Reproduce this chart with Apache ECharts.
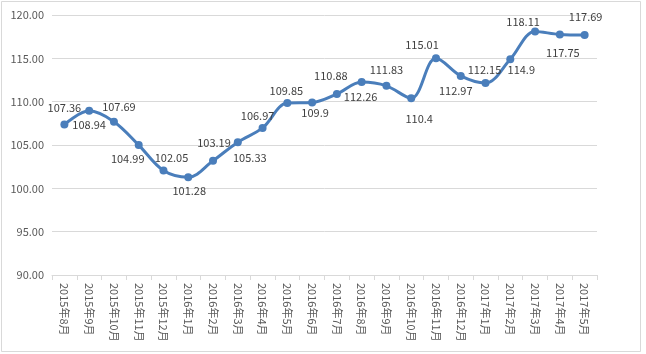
<!DOCTYPE html>
<html>
<head>
<meta charset="utf-8">
<script src="https://cdn.jsdelivr.net/npm/echarts@6/dist/echarts.min.js"></script>
<style>
html,body{margin:0;padding:0;background:#fff;}
#c{width:646px;height:354px;}
</style>
</head>
<body>
<div id="c"></div>
<script>
var categories = ['2015年8月','2015年9月','2015年10月','2015年11月','2015年12月','2016年1月','2016年2月','2016年3月','2016年4月','2016年5月','2016年6月','2016年7月','2016年8月','2016年9月','2016年10月','2016年11月','2016年12月','2017年1月','2017年2月','2017年3月','2017年4月','2017年5月'];
var values = [107.36,108.94,107.69,104.99,102.05,101.28,103.19,105.33,106.97,109.85,109.9,110.88,112.26,111.83,110.4,115.01,112.97,112.15,114.9,118.11,117.75,117.69];
var yTicks = {min: 90, max: 120, interval: 5};
// label offsets relative to the point (dx, dy), as placed in the reference
var labelDx = [0,0,5,-11,8,1,1,12,-5,-1,3,-6,-1,0,8,-14,-5,-1,11,-12,3,1];
var labelDy = [-17,14,-15,14,-13,14,-18,16,-12,-12,10,-18,15,-16,21,-13,15,-13,11,-10,18,-18];

var chart = echarts.init(document.getElementById('c'), null, {renderer:'canvas'});
var font = '"Microsoft YaHei","Noto Sans CJK SC","Liberation Sans",sans-serif';
var data = values.map(function(v, i){
  return {value: v, label: {offset: [labelDx[i], labelDy[i]]}};
});
chart.setOption({
  animation: false,
  backgroundColor: '#fff',
  graphic: [{type:'rect', shape:{x:1.5,y:1.5,width:639,height:350}, style:{fill:'none', stroke:'#d9d9d9', lineWidth:1}, silent:true}],
  grid: {left: 52, right: 49, top: 15, bottom: 79, containLabel: false},
  xAxis: {
    type: 'category',
    data: categories,
    boundaryGap: true,
    axisLine: {lineStyle: {color: '#d9d9d9'}},
    axisTick: {show: true, length: 5, lineStyle: {color: '#d9d9d9'}},
    axisLabel: {rotate: -90, color: '#595959', fontSize: 11, fontFamily: font, margin: 8, interval: 0}
  },
  yAxis: {
    type: 'value',
    min: yTicks.min, max: yTicks.max, interval: yTicks.interval,
    axisLine: {show: false},
    axisTick: {show: false},
    splitLine: {lineStyle: {color: '#d9d9d9'}},
    axisLabel: {color: '#595959', fontSize: 11, fontFamily: font, margin: 8, formatter: function(v){return v.toFixed(2);}}
  },
  series: [{
    type: 'line',
    data: data,
    smooth: 0.35,
    symbol: 'circle',
    symbolSize: 8,
    lineStyle: {color: '#4a7ebb', width: 3},
    itemStyle: {color: '#4a7ebb'},
    label: {show: true, position: 'inside', color: '#404040', fontSize: 11, fontFamily: font,
      formatter: function(p){ return String(p.value); }}
  }]
});
</script>
</body>
</html>
